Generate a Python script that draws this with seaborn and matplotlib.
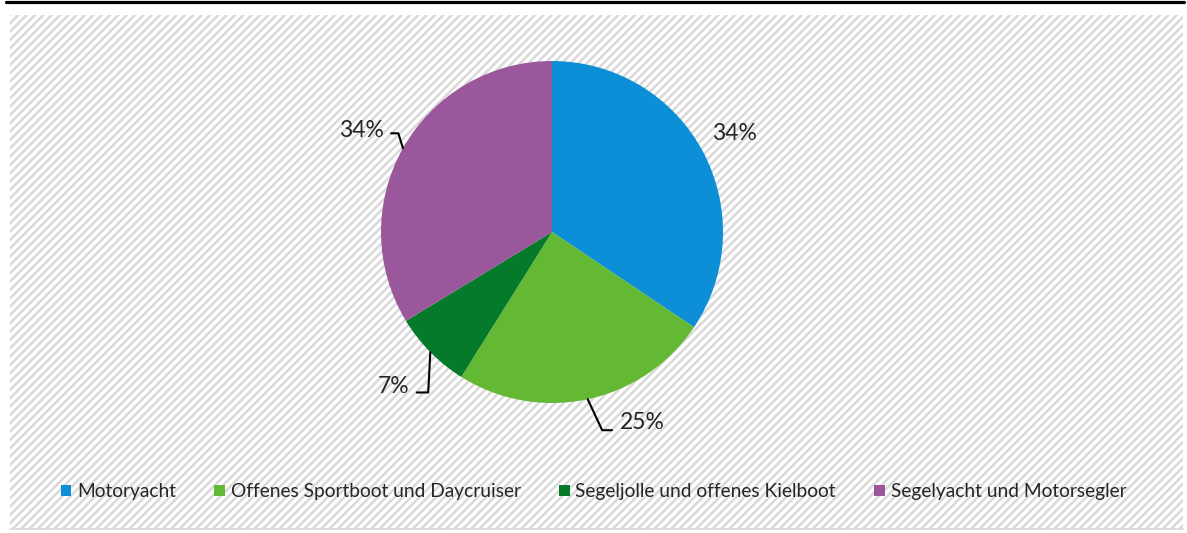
import numpy as np
import matplotlib
matplotlib.use("Agg")
import matplotlib.pyplot as plt
from matplotlib.patches import Rectangle, Patch
from matplotlib.lines import Line2D
import seaborn as sns

# data (share of boat types, %)
categories = ["Motoryacht", "Offenes Sportboot und Daycruiser",
              "Segeljolle und offenes Kielboot", "Segelyacht und Motorsegler"]
shares = [34.4, 24.5, 7.4, 33.7]
labels = ["34%", "25%", "7%", "34%"]
colors = ["#0C8FD6", "#63B933", "#067A2B", "#9B579C"]

sns.set_theme(style="white")
palette = sns.color_palette(colors)
plt.rcParams["font.family"] = ["Lato", "DejaVu Sans"]
plt.rcParams["hatch.color"] = "#D9D9D9"
plt.rcParams["hatch.linewidth"] = 1.8
TXT = "#262626"

W, H = 1187, 533
fig = plt.figure(figsize=(W / 100, H / 100), dpi=100)

# hatched chart area
bg = fig.add_axes([10 / W, 4 / H, 1173 / W, 514 / H])
bg.set_xlim(0, 1); bg.set_ylim(0, 1); bg.axis("off")
bg.add_patch(Rectangle((0, 0), 1, 1, facecolor="white", edgecolor="#D9D9D9",
                       hatch="////", linewidth=0))
bg.plot([0, 1], [0, 0], color="#D9D9D9", lw=1.2, clip_on=False)

# black rule at the top
fig.add_artist(Line2D([6 / W, 1184 / W], [1 - 2 / H, 1 - 2 / H],
                      color="black", lw=2.3))

# pie
r_px = 171
ax = fig.add_axes([(552 - r_px) / W, (H - 232 - r_px) / H, 2 * r_px / W, 2 * r_px / H])
wedges, _ = ax.pie(shares, colors=palette, startangle=90, counterclock=False,
                   radius=1, wedgeprops=dict(linewidth=0))
ax.set_xlim(-1, 1); ax.set_ylim(-1, 1)
ax.set_aspect("equal")
ax.axis("off")

# label offsets (points) from wedge edge, leader angle, arrow start on text
label_style = [
    dict(off=(23, 13), arrow=None),
    dict(off=(39, -17), arrow=dict(angB=115, rel=(0, 0.15))),
    dict(off=(-26.5, -24.5), arrow=dict(angB=87, rel=(1, 0.2))),
    dict(off=(-30, 13), arrow=dict(angB=107, rel=(1, 0.35))),
]
for w, lab, st in zip(wedges, labels, label_style):
    mid = np.deg2rad((w.theta1 + w.theta2) / 2)
    xy = (np.cos(mid), np.sin(mid))
    ap = None
    if st["arrow"] is not None:
        ap = dict(arrowstyle="-", color="black", lw=1.5, relpos=st["arrow"]["rel"],
                  shrinkA=3, shrinkB=0,
                  connectionstyle=f"angle,angleA=0,angleB={st['arrow']['angB']},rad=0")
    ax.annotate(lab, xy=xy, xytext=st["off"], textcoords="offset points",
                ha="center", va="center", fontsize=16.5, color=TXT,
                arrowprops=ap, annotation_clip=False)

handles = [Patch(facecolor=c, edgecolor="none") for c in palette]
fig.legend(handles, categories, loc="center", bbox_to_anchor=(0.5, 41 / H),
           ncol=4, frameon=False, fontsize=13.8, labelcolor=TXT,
           handlelength=0.55, handleheight=0.55, handletextpad=0.3,
           columnspacing=2.0, borderaxespad=0)

fig.savefig("out.png", dpi=100)
